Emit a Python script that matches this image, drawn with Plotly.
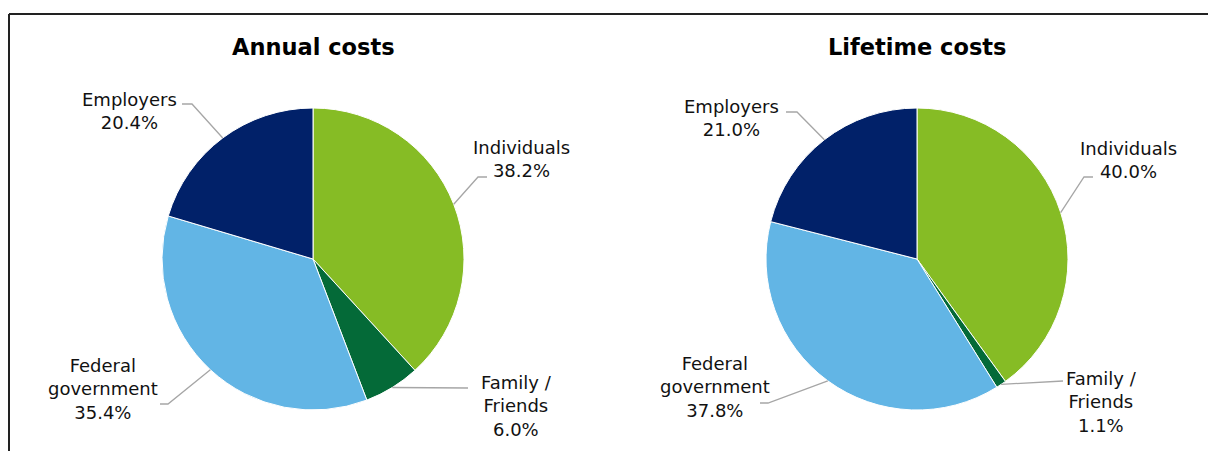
import math
import plotly.graph_objects as go

# ---- data ----
categories = ["Individuals", "Family / Friends", "Federal government", "Employers"]
label_text = ["Individuals", "Family /<br>Friends", "Federal<br>government", "Employers"]
annual_values = [38.2, 6.0, 35.4, 20.4]
lifetime_values = [40.0, 1.1, 37.8, 21.0]
titles = ["Annual costs", "Lifetime costs"]
colors = ["#86BC25", "#046A38", "#62B5E5", "#012169"]

# ---- layout constants (pixels) ----
W, H = 1208, 451
R = 151
centers = [(313, 259), (917, 259)]
FONT = "DejaVu Sans"

# label block centres and leader-line bends, per pie, per category (pixels)
label_pos = [
    [(521, 159), (516, 406), (103, 389), (129, 111)],
    [(1128, 160), (1101, 402), (715, 387), (731, 118)],
]
leader_pts = [
    [[(478, 177), (487, 177)], [(468, 388)], [(168, 404), (160, 404)], [(192, 104), (182, 104)]],
    [[(1084, 177), (1093, 177)], [(1063, 381)], [(768, 403), (760, 403)], [(797, 112), (786, 112)]],
]


def px(x):
    return x / W


def py(y):
    return 1 - y / H


fig = go.Figure()
shapes = []
annotations = []

for i, vals in enumerate([annual_values, lifetime_values]):
    cx, cy = centers[i]
    fig.add_trace(go.Pie(
        labels=categories, values=vals, sort=False, direction="clockwise", rotation=0,
        marker=dict(colors=colors, line=dict(color="white", width=1)),
        textinfo="none", hoverinfo="label+percent", showlegend=False,
        domain=dict(x=[px(cx - R), px(cx + R)], y=[py(cy + R), py(cy - R)]),
    ))
    annotations.append(dict(
        text="<b>%s</b>" % titles[i], x=px(cx), y=py(47), xref="paper", yref="paper",
        showarrow=False, font=dict(family=FONT, size=22.5, color="black"),
        xanchor="center", yanchor="middle"))
    total = sum(vals)
    cum = 0.0
    for j, v in enumerate(vals):
        mid = (cum + v / 2) / total
        cum += v
        ang = 2 * math.pi * mid
        ex = cx + R * math.sin(ang)
        ey = cy - R * math.cos(ang)
        pts = [(ex, ey)] + leader_pts[i][j]
        path = "M " + " L ".join("%f,%f" % (px(a), py(b)) for a, b in pts)
        shapes.append(dict(type="path", path=path, xref="paper", yref="paper",
                           line=dict(color="#A6A6A6", width=1.3)))
        lx, ly = label_pos[i][j]
        annotations.append(dict(
            text="%s<br>%.1f%%" % (label_text[j], v), x=px(lx), y=py(ly),
            xref="paper", yref="paper", showarrow=False, align="center",
            font=dict(family=FONT, size=18, color="#111111"),
            xanchor="center", yanchor="middle"))

# frame
shapes.append(dict(type="line", xref="paper", yref="paper", x0=px(9), x1=1, y0=py(14), y1=py(14),
                   line=dict(color="#222222", width=2)))
shapes.append(dict(type="line", xref="paper", yref="paper", x0=px(9), x1=px(9), y0=py(14), y1=0,
                   line=dict(color="#222222", width=2)))

fig.update_layout(
    width=W, height=H, margin=dict(l=0, r=0, t=0, b=0),
    paper_bgcolor="white", plot_bgcolor="white",
    shapes=shapes, annotations=annotations,
)
fig.write_html("out.html", config={"displayModeBar": False},
               post_script="document.body.style.margin='0';")
